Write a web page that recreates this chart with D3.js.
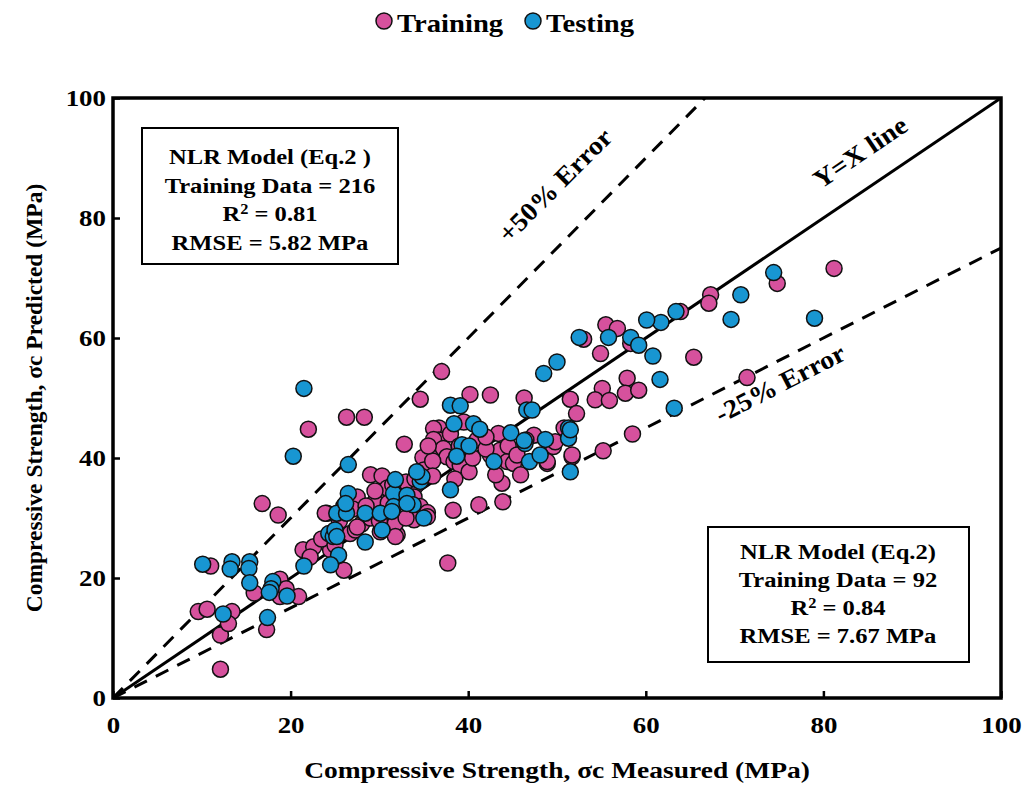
<!DOCTYPE html>
<html><head><meta charset="utf-8">
<script src="https://cdn.jsdelivr.net/npm/d3@7"></script>
<style>body{margin:0;background:#fff}svg{display:block}text{font-family:"Liberation Serif","Times New Roman",serif;font-weight:bold;fill:#000}</style>
</head><body>
<svg id="c" width="1035" height="787"></svg>
<script>
const xTicks = [0,20,40,60,80,100];
const yTicks = [0,20,40,60,80,100];
const legendLabels = ["Training","Testing"];
const trainingData = [
[12.1,4.8],[12.1,10.5],[9.6,14.4],[10.6,14.8],[13.4,14.4],[13,12.4],[17.3,11.4],[11,22],[16.8,32.4],[18.6,30.5],
[22,44.8],[26.3,46.8],[28.3,46.8],[15.9,17.5],[18.8,19.8],[18.8,16.9],[19.5,18.2],[20.9,16.9],[21.4,24.7],[22.6,25.2],
[22.2,23.5],[24.1,30.8],[27.5,33.5],[26.7,27.4],[27.3,28],[24.5,24.7],[26,21.3],[30.1,27.7],[32,27.2],[31.8,29.1],
[29,37.2],[30.3,37],[29.7,33],[29.5,32.7],[31.8,32.7],[30.9,35],[32.7,35.2],[33.5,35.5],[34,35.2],[33.7,34.8],[33.9,33.5],
[34.6,31.9],[35.4,30.9],[33.9,29.7],[35.4,30.2],[23.9,30.8],[31.8,26.9],[32.8,42.3],[37,54.4],[34.6,49.8],[40.2,50.6],
[42.5,50.5],[46.3,50],[36.7,45],[36.1,44.9],[36.7,43],[35.9,41.3],[43.4,44.1],[36.1,43.1],[37.2,41.6],[34.9,40.1],
[37.6,40.2],[38.4,39.4],[39.1,38.8],[40.1,37.7],[42.5,40.5],[43.6,41.3],[44.4,39.4],[45.1,39.1],[45.9,37.2],[43.8,35.8],
[43.1,37.2],[38.3,31.3],[41.2,32.2],[43.9,32.7],[37.7,22.5],[51.5,49.8],[52.2,47.4],[49.6,41.9],[48.9,39.1],[51.7,40.2],
[81.2,71.6],[74.8,69.1],[67.3,67.2],[67.1,65.8],[63.9,64.4],[55.5,62.2],[56.8,61.6],[53,59.8],[58.3,59.1],[54.9,57.4],
[65.4,56.8],[55.1,51.6],[54.3,49.7],[55.9,49.6],[57.9,53.3],[57.7,50.8],[59.2,51.3],[71.4,53.4],[58.5,44],[55.2,41.2],
[50.8,45],[51.7,40.5],[47.4,43.8],[49.8,42.7],[48.9,39.4],
[25.5,29.5],[27,31.5],[28,29],[29,30],[30.5,31],[31,32.5],[30,29.5],[33,30],[27.5,28.5],[28.5,32],[26,32],[33,36],
[35,38],[36,39.5],[35.5,42],[38,44],[39.5,46],[41,43],[42,41.5],[40.5,40],[38.5,36.5],[36,37],[23.5,26.5],[25,25.5],
[29.5,34.5],[31.5,35.5],[34,36.5],[39,42],[42,43.5],[44.5,42],[45.5,40.5],[46.5,43]
];
const testingData = [
[10.1,22.3],[13.4,22.7],[13.2,21.5],[15.4,22.7],[15.3,21.6],[15.4,19.2],[18,19.4],[17.8,18.2],[17.6,17.6],[19.6,17],
[12.4,14],[17.4,13.4],[21.5,22],[21.5,51.6],[20.3,40.3],[26.5,38.9],[25.2,30.8],[26.5,34.1],[26.3,30.8],[28.4,30.8],
[30.1,30.8],[24.3,27.4],[24.8,26.9],[28.4,26],[25.4,23.8],[24.5,22.2],[30.3,28],[31.6,34.1],[33.1,33.8],[33.8,32.2],
[31.6,31.9],[34.6,36.1],[31.8,36.4],[34.8,36.9],[34.2,37.7],[31.4,31.1],[33.1,32.4],[35,30],[38,48.8],[39.1,48.7],
[38.4,45.7],[40.6,45.7],[41.3,44.8],[44.8,44.2],[39.3,42.2],[40.1,42],[38.7,40.3],[42.9,39.4],[38,34.7],[46.4,42.4],
[46.6,48],[48.5,54.1],[50,56],[47.2,48],[51.3,45],[51.3,43.3],[48.7,43.1],[46.9,39.4],[48.1,40.5],[51.5,37.7],
[51.5,44.7],[74.4,70.9],[70.7,67.2],[69.6,63.1],[79,63.3],[63.4,64.4],[61.7,62.6],[60.1,63],[55.8,60.1],[52.5,60.1],
[58.3,60.1],[59.2,58.8],[60.8,57],[61.6,53.1],[63.2,48.3],[46.3,42.9],[26.2,32.4],[25,28],[25.2,26.9]
];
const refLines = [{k:1,dash:null,label:"Y=X line"},{k:1.5,dash:"14,10",label:"+50% Error"},{k:0.75,dash:"14,10",label:"-25% Error"}];
const boxLeft = ["NLR Model (Eq.2 )","Training Data = 216","R2 = 0.81","RMSE = 5.82 MPa"];
const boxRight = ["NLR Model (Eq.2)","Training Data = 92","R2 = 0.84","RMSE = 7.67 MPa"];

const svg = d3.select("#c");
const L=113,R=1001,T=98,B=698;
const SX=1.17;
const x = d3.scaleLinear().domain([0,100]).range([L,R]);
const y = d3.scaleLinear().domain([0,100]).range([B,T]);
const pink="#d6519d", blue="#1896d2";

svg.append("clipPath").attr("id","pc").append("rect").attr("x",L).attr("y",T).attr("width",R-L).attr("height",B-T);

const g = svg.append("g").attr("clip-path","url(#pc)");
refLines.forEach(r=>{
  g.append("line").attr("x1",x(0)).attr("y1",y(0)).attr("x2",x(100)).attr("y2",y(100*r.k))
   .attr("stroke","#000").attr("stroke-width",3).attr("stroke-dasharray",r.dash);
});

const drawPts=(data,col)=>svg.append("g").selectAll("circle").data(data).join("circle")
  .attr("cx",d=>x(d[0])).attr("cy",d=>y(d[1])).attr("r",8)
  .attr("fill",col).attr("stroke","#111").attr("stroke-width",1.5);
drawPts(trainingData,pink);
drawPts(testingData,blue);

const xa = svg.append("g").attr("transform",`translate(0,${B})`).call(d3.axisBottom(x).tickValues(xTicks).tickSize(-7).tickPadding(19));
const ya = svg.append("g").attr("transform",`translate(${L},0)`).call(d3.axisLeft(y).tickValues(yTicks).tickSize(-7).tickPadding(6));
[xa,ya].forEach(a=>{a.select(".domain").remove();a.selectAll("line").attr("stroke","#000").attr("stroke-width",2.5);
  a.selectAll("text").style("font-size","23px").style("font-family","Liberation Serif").style("font-weight","bold").attr("fill","#000")
   .attr("transform",`scale(${SX},1)`);});
xa.selectAll("text").attr("dy","0.71em");
svg.append("rect").attr("x",L).attr("y",T).attr("width",R-L).attr("height",B-T).attr("fill","none").attr("stroke","#000").attr("stroke-width",3.5);

const htext=(t,cx,cy,fs,anchor)=>svg.append("text").attr("transform",`translate(${cx},${cy}) scale(${SX},1)`)
  .attr("text-anchor",anchor||"middle").attr("dy","0.35em").style("font-size",fs+"px").text(t);

htext("Compressive Strength, σc Measured (MPa)",557,770,23.5);
svg.append("text").attr("transform","translate(34,398) rotate(-90)").attr("text-anchor","middle").attr("dy","0.35em").style("font-size","23.5px").text("Compressive Strength, σc Predicted (MPa)");

const lbl=(t,cx,cy,ang)=>svg.append("text").attr("transform",`translate(${cx},${cy}) rotate(${ang}) scale(1.08,1)`).attr("text-anchor","middle").attr("dy","0.35em").style("font-size","26px").text(t);
lbl(refLines[0].label,860,152,-34);
lbl(refLines[1].label,555,185,-45);
lbl(refLines[2].label,780,383,-27);

function box(lines,x0,y0,w,h,cx,ys){
  svg.append("rect").attr("x",x0).attr("y",y0).attr("width",w).attr("height",h).attr("fill","#fff").attr("stroke","#000").attr("stroke-width",2);
  lines.forEach((t,i)=>{
    const tx=htext("",cx,ys[i],21);
    if(t.startsWith("R2")){tx.append("tspan").text("R");tx.append("tspan").attr("baseline-shift","super").style("font-size","14px").text("2");tx.append("tspan").text(t.slice(2));}
    else tx.text(t);
  });
}
box(boxLeft,142,128,256,136,270,[157,186,214,243]);
box(boxRight,708,527,261,135,838,[552,580,608,636]);

const leg=[{t:legendLabels[0],c:pink,x:384},{t:legendLabels[1],c:blue,x:533}];
leg.forEach(l=>{
  svg.append("circle").attr("cx",l.x).attr("cy",21).attr("r",8).attr("fill",l.c).attr("stroke","#111").attr("stroke-width",1.5);
  htext(l.t,l.x+13,23,24.5,"start");
});
</script>
</body></html>
